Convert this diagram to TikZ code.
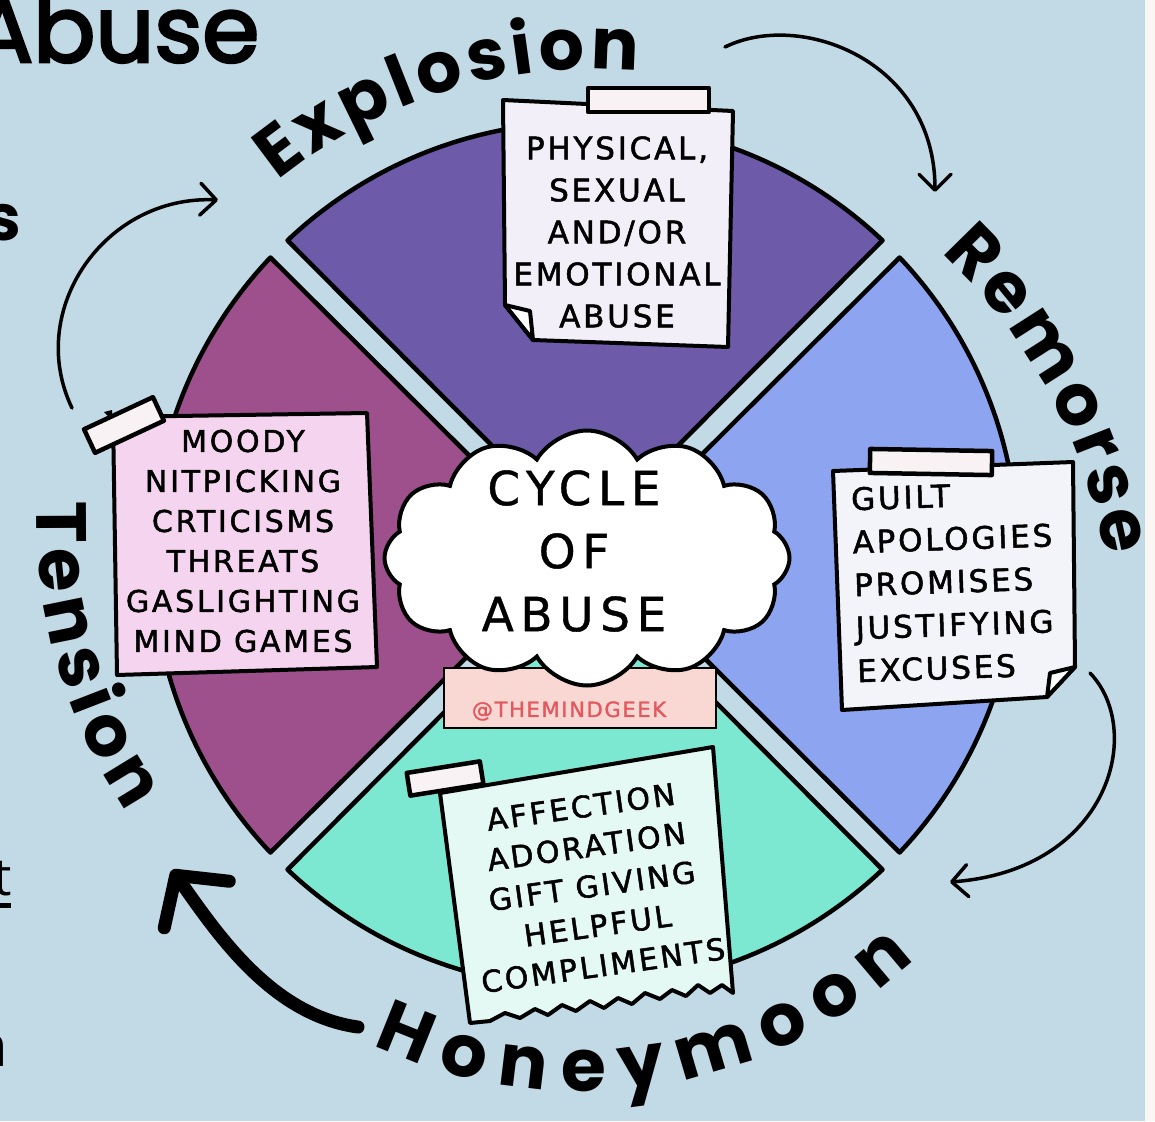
\documentclass[tikz,border=0pt]{standalone}
\usepackage{fontspec}
\usetikzlibrary{shapes.symbols,decorations.text,arrows.meta}
\newfontfamily\pop{Poppins}
\newfontfamily\popfb{Poppins}[FakeBold=3]
\newfontfamily\hand{DejaVu Sans}[LetterSpace=9, FakeBold=1.6]
\newfontfamily\handw{DejaVu Sans}[LetterSpace=14, FakeBold=0.8]
\newfontfamily\tagf{DejaVu Sans}[LetterSpace=8, FakeBold=1.5]
\newfontfamily\opn{Open Sans}
\definecolor{bgc}{HTML}{C1DAE5}
\definecolor{stripc}{HTML}{FAF6F4}
\definecolor{explo}{HTML}{6D5AA9}
\definecolor{remo}{HTML}{8DA5F0}
\definecolor{honey}{HTML}{7DE8D2}
\definecolor{tens}{HTML}{9D508B}
\definecolor{notetop}{HTML}{F3EFF8}
\definecolor{noteleft}{HTML}{F5D4EF}
\definecolor{noteright}{HTML}{F3F3FA}
\definecolor{notebot}{HTML}{E4F8F4}
\definecolor{tapec}{HTML}{F8F2F5}
\definecolor{tagfill}{HTML}{F9D7D2}
\definecolor{tagtext}{HTML}{E2585E}
\tikzset{
  wedge/.style={draw=black, line width=4.5pt, line join=round},
  paper/.style={draw=black, line width=4pt, line join=round},
  tape/.style={draw=black, line width=4.5pt, fill=tapec, line join=round},
  thinarrow/.style={line width=3.5pt, line cap=round, -{Straight Barb[length=16pt,width=32pt,round]}},
  thickarrow/.style={line width=13pt, line cap=round, -{Straight Barb[length=36pt,width=80pt,round]}},
  notetext/.style={inner sep=0pt, align=center, font=\hand\fontsize{30pt}{41pt}\selectfont},
}
\begin{document}
\begin{tikzpicture}[x=1pt,y=-1pt]
\useasboundingbox (0,0) rectangle (1155,1121);
\clip (0,0) rectangle (1155,1121);
\fill[bgc] (0,0) rectangle (1155,1121);
\fill[stripc] (1145,0) rectangle (1155,1121);

% wheel
\foreach \ph/\col in {270/explo,0/remo,90/honey,180/tens}{
  \draw[wedge, fill=\col] ([shift={(\ph:16)}]585,555) -- ([shift={({\ph-45+1.6}:433)}]585,555)
     arc[start angle=\ph-45+1.6, end angle=\ph+45-1.6, radius=433] -- cycle;
}

% tag box and cloud
\node[draw=black, line width=2.5pt, fill=tagfill, minimum width=272pt, minimum height=60pt, inner sep=0pt] (tag) at (580,698) {};
\node[inner sep=0pt, text=tagtext, font=\tagf\fontsize{21pt}{21pt}\selectfont] (tagtxt) at (569,711) {@THEMINDGEEK};
\node[cloud, cloud puffs=12, cloud puff arc=120, aspect=1.6, draw=black, line width=4pt, fill=white,
      minimum width=405pt, minimum height=255pt] (cloud) at (587,558) {};
\node[inner sep=0pt, align=center, font=\handw\fontsize{47pt}{63pt}\selectfont] (title) at (574,551) {CYCLE\\OF\\ABUSE};

% top note (Explosion)
\draw[paper, fill=notetop] (503,100) -- (733,111) -- (728,347) -- (533,340) -- (505,305) -- cycle;
\draw[paper, fill=white] (505,305) -- (530,311) -- (533,340) -- cycle;
\draw[tape] (588,88) rectangle (709,112);
\node[notetext, font=\hand\fontsize{31pt}{42pt}\selectfont] (ntop) at (617,232) {PHYSICAL,\\SEXUAL\\AND/OR\\EMOTIONAL\\ABUSE};

% left note (Tension)
\draw[paper, fill=noteleft] (113,417) -- (367,413) -- (377,667) -- (117,675) -- cycle;
\fill (104,412) -- (112,410) -- (112,420) -- cycle;
\draw[tape, rotate around={25:(124,425)}] (86,412) rectangle (162,438);
\node[notetext, font=\hand\fontsize{30pt}{40pt}\selectfont] (nleft) at (243,541) {MOODY\\NITPICKING\\CRTICISMS\\THREATS\\GASLIGHTING\\MIND GAMES};

% right note (Remorse)
\draw[paper, fill=noteright] (833,471) -- (1073,462) -- (1075,667) -- (1047,697) -- (842,710) -- cycle;
\draw[paper, fill=white] (1075,667) -- (1050,673) -- (1047,697) -- cycle;
\draw[tape, rotate around={-1:(931,462)}] (870,450) rectangle (992,474);
\node[notetext, align=left, anchor=west, rotate=2, font=\hand\fontsize{31pt}{43pt}\selectfont] (nright) at (854,585) {GUILT\\APOLOGIES\\PROMISES\\JUSTIFYING\\EXCUSES};

% bottom note (Honeymoon)
\draw[paper, fill=notebot] (440,793) -- (713,747) -- (733,993) -- (722,985) -- (710,993) -- (698,985) -- (686,996)
  -- (672,990) -- (660,999) -- (645,993) -- (632,1004) -- (618,998) -- (604,1008) -- (590,1001) -- (576,1011)
  -- (562,1005) -- (548,1015) -- (535,1009) -- (520,1018) -- (505,1013) -- (490,1021) -- (470,1023) -- cycle;
\draw[tape, rotate around={9:(445,778)}] (408,767) rectangle (482,790);
\node[notetext, rotate=8, font=\hand\fontsize{30pt}{40pt}\selectfont] (nbot) at (592,886) {AFFECTION\\ADORATION\\GIFT GIVING\\HELPFUL\\COMPLIMENTS};

% curved stage labels
\path[decorate, decoration={text along path, text align={fit to path},
   text={|\pop\bfseries\fontsize{71pt}{71pt}\selectfont|Explosion}}]
   ([shift={(231:503)}]594,572) arc[start angle=231, end angle=275, radius=503];
\path[decorate, decoration={text along path, text align={fit to path},
   text={|\pop\bfseries\fontsize{71pt}{71pt}\selectfont|Remorse}}]
   ([shift={(313:545)}]569,651) arc[start angle=313, end angle=350, radius=545];
\path[decorate, decoration={text along path, text align={fit to path},
   text={|\pop\bfseries\fontsize{71pt}{71pt}\selectfont|Tension}}]
   ([shift={(182:523)}]560,520) arc[start angle=182, end angle=146, radius=523];
\path[decorate, decoration={text along path, text align={fit to path},
   text={|\pop\bfseries\fontsize{73pt}{73pt}\selectfont|Honeymoon}}]
   ([shift={(115:491)}]580,600) arc[start angle=115, end angle=47, radius=491];

% arrows
\coordinate (a1s) at (725,47);   \coordinate (a1e) at (935,192);
\coordinate (a2s) at (72,408);   \coordinate (a2e) at (218,200);
\coordinate (a3s) at (1090,673); \coordinate (a3e) at (950,882);
\coordinate (a4s) at (358,1027); \coordinate (a4e) at (172,870);
\draw[thinarrow] (a1s) .. controls (800,10) and (935,60) .. (a1e);
\draw[thinarrow] (a2s) .. controls (25,310) and (105,195) .. (a2e);
\draw[thinarrow] (a3s) .. controls (1145,730) and (1110,870) .. (a3e);
\draw[thickarrow] (a4s) .. controls (270,1015) and (215,930) .. (a4e);

% cut-off text at left / top
\node[anchor=base west, inner sep=0pt, font=\popfb\fontsize{92pt}{92pt}\selectfont] (abuse) at (-29,62) {Abuse};
\node[anchor=base west, inner sep=0pt, font=\pop\bfseries\fontsize{64pt}{64pt}\selectfont] (fs) at (-15,240) {s};
\node[anchor=base east, inner sep=0pt, font=\opn\fontsize{52pt}{52pt}\selectfont] (ft) at (12,895) {t};
\fill (0,903) rectangle (11,908);
\node[anchor=base east, inner sep=0pt, font=\opn\fontsize{58pt}{58pt}\selectfont] (fn) at (8,1066) {n};
\end{tikzpicture}
\end{document}
